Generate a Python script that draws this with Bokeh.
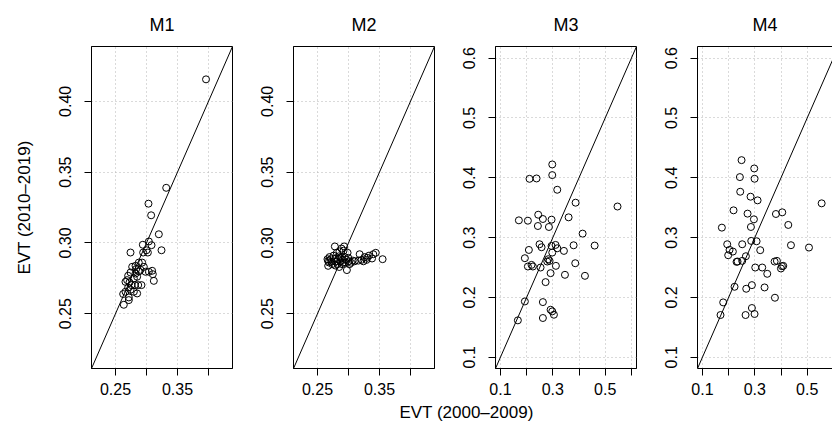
from bokeh.plotting import figure
from bokeh.models import Range1d, FixedTicker, Slope, Label, PrintfTickFormatter, LinearAxis
from bokeh.layouts import row, column
from bokeh.embed import file_html
from bokeh.resources import INLINE

FONT = "Liberation Sans"

# ---- data ----
titles = ["M1", "M2", "M3", "M4"]

m1_x = [0.3032, 0.3075, 0.3199, 0.2742, 0.3242, 0.2941, 0.3038, 0.3081, 0.2946, 0.3000,
        0.3022, 0.2876, 0.2930, 0.2823, 0.2957, 0.2769, 0.2903, 0.2833, 0.2876, 0.2984,
        0.3038, 0.3091, 0.3102, 0.2742, 0.2704, 0.2823, 0.2849, 0.2796, 0.3118, 0.2688,
        0.2661, 0.2726, 0.2758, 0.2812, 0.2866, 0.2919, 0.2704, 0.2742, 0.2661, 0.2796,
        0.2849, 0.2715, 0.2624, 0.2715, 0.2634, 0.3960, 0.3318]
m1_y = [0.3277, 0.3195, 0.3061, 0.2932, 0.2948, 0.2987, 0.3010, 0.2984, 0.2932, 0.2948,
        0.2932, 0.2861, 0.2861, 0.2838, 0.2831, 0.2831, 0.2810, 0.2815, 0.2798, 0.2796,
        0.2796, 0.2803, 0.2779, 0.2791, 0.2768, 0.2784, 0.2761, 0.2749, 0.2732, 0.2737,
        0.2725, 0.2721, 0.2702, 0.2702, 0.2702, 0.2702, 0.2685, 0.2669, 0.2655, 0.2655,
        0.2643, 0.2615, 0.2639, 0.2596, 0.2563, 0.4155, 0.3389]

m2_x = [0.2661, 0.2672, 0.2683, 0.2672, 0.2694, 0.2715, 0.2726, 0.2737, 0.2758, 0.2780,
        0.2790, 0.2801, 0.2812, 0.2823, 0.2833, 0.2844, 0.2855, 0.2866, 0.2877, 0.2888,
        0.2898, 0.2909, 0.2920, 0.2930, 0.2940, 0.2952, 0.2963, 0.2974, 0.2985, 0.2996,
        0.3006, 0.3017, 0.3040, 0.3070, 0.3100, 0.3160, 0.3180, 0.3210, 0.3240, 0.3260,
        0.3290, 0.3300, 0.3330, 0.3380, 0.3400, 0.3440, 0.3550, 0.2850, 0.2790, 0.2910]
m2_y = [0.2885, 0.2873, 0.2862, 0.2838, 0.2900, 0.2885, 0.2867, 0.2850, 0.2910, 0.2975,
        0.2890, 0.2868, 0.2930, 0.2850, 0.2885, 0.2905, 0.2940, 0.2870, 0.2890, 0.2960,
        0.2850, 0.2880, 0.2945, 0.2975, 0.2900, 0.2862, 0.2880, 0.2808, 0.2930, 0.2895,
        0.2870, 0.2850, 0.2860, 0.2875, 0.2870, 0.2875, 0.2920, 0.2880, 0.2870, 0.2900,
        0.2880, 0.2895, 0.2910, 0.2890, 0.2920, 0.2930, 0.2885, 0.2830, 0.2840, 0.2860]

m3_x = [0.2979, 0.2979, 0.2111, 0.2379, 0.3170, 0.3870, 0.2443, 0.2621, 0.2952, 0.2430,
        0.2851, 0.2048, 0.1704, 0.3603, 0.4138, 0.2494, 0.2570, 0.2952, 0.3105, 0.3170,
        0.3794, 0.4597, 0.3424, 0.2086, 0.2979, 0.1933, 0.2826, 0.2877, 0.2788, 0.2048,
        0.2188, 0.2239, 0.2532, 0.3118, 0.3857, 0.2915, 0.3463, 0.4227, 0.2724, 0.1933,
        0.2621, 0.2915, 0.2979, 0.3042, 0.2621, 0.1666, 0.5470]
m3_y = [0.4223, 0.4045, 0.3983, 0.3989, 0.3800, 0.3584, 0.3383, 0.3311, 0.3300, 0.3194,
        0.3178, 0.3283, 0.3289, 0.3339, 0.3067, 0.2889, 0.2839, 0.2861, 0.2878, 0.2822,
        0.2872, 0.2867, 0.2778, 0.2794, 0.2750, 0.2656, 0.2639, 0.2611, 0.2600, 0.2517,
        0.2544, 0.2517, 0.2500, 0.2528, 0.2572, 0.2406, 0.2378, 0.2361, 0.2256, 0.1933,
        0.1922, 0.1794, 0.1767, 0.1711, 0.1656, 0.1617, 0.3520]

m4_x = [0.2494, 0.2978, 0.2430, 0.2991, 0.2443, 0.2838, 0.3106, 0.5552, 0.2188, 0.2723,
        0.3806, 0.4048, 0.2966, 0.4278, 0.2851, 0.1742, 0.2864, 0.3068, 0.1946, 0.2519,
        0.4380, 0.5068, 0.3207, 0.2035, 0.2162, 0.1984, 0.2659, 0.2519, 0.2341, 0.2303,
        0.3755, 0.3844, 0.3017, 0.3284, 0.3475, 0.4035, 0.4086, 0.3997, 0.2889, 0.2226,
        0.2672, 0.3372, 0.3768, 0.1793, 0.2889, 0.1691, 0.2647, 0.2991]
m4_y = [0.4295, 0.4156, 0.4012, 0.3984, 0.3767, 0.3684, 0.3623, 0.3573, 0.3456, 0.3401,
        0.3395, 0.3423, 0.3306, 0.3212, 0.3178, 0.3167, 0.2945, 0.2939, 0.2889, 0.2889,
        0.2873, 0.2834, 0.2790, 0.2795, 0.2767, 0.2706, 0.2689, 0.2611, 0.2600, 0.2595,
        0.2600, 0.2611, 0.2500, 0.2500, 0.2395, 0.2522, 0.2528, 0.2484, 0.2206, 0.2178,
        0.2145, 0.2167, 0.1995, 0.1917, 0.1823, 0.1706, 0.1706, 0.1723]

# axis ticks
ticks_a_labeled_x = [0.25, 0.35]
ticks_a_unlabeled_x = [0.30, 0.40]
ticks_a_y = [0.25, 0.30, 0.35, 0.40]
ticks_b_labeled_x = [0.1, 0.3, 0.5]
ticks_b_unlabeled_x = [0.2, 0.4, 0.6]
ticks_b_y = [0.1, 0.2, 0.3, 0.4, 0.5, 0.6]
fmt_a = "%.2f"
fmt_b = "%.1f"

lim_a = (0.2113, 0.4387)
lim_b = (0.0812, 0.6195)
lim_b4_x = (0.0812, 0.5966)

x_title = "EVT (2000\u20132009)"
y_title = "EVT (2010\u20132019)"

ROW_H = 400


def panel(title, xs, ys, xr, yr, xl, xu, yt, fmt, width, left, right, ylabel=None, open_right=False):
    p = figure(width=width, height=ROW_H, x_range=Range1d(*xr), y_range=Range1d(*yr),
               output_backend="svg", toolbar_location=None,
               min_border_left=left, min_border_right=right,
               min_border_top=45, min_border_bottom=ROW_H - 45 - 323,
               title=title)
    p.background_fill_color = "white"
    p.border_fill_color = "white"
    p.outline_line_color = "black"
    p.outline_line_width = 1
    p.outline_line_alpha = 1

    p.title.align = "center"
    p.title.text_font = FONT
    p.title.text_font_size = "18px"
    p.title.text_font_style = "normal"
    p.title.text_color = "black"
    p.title.standoff = 24

    p.xaxis.ticker = FixedTicker(ticks=xl, minor_ticks=xu)
    p.yaxis.ticker = FixedTicker(ticks=yt)
    p.xaxis.formatter = PrintfTickFormatter(format=fmt)
    p.yaxis.formatter = PrintfTickFormatter(format=fmt)
    p.xgrid.ticker = FixedTicker(ticks=sorted(xl + xu))
    p.ygrid.ticker = FixedTicker(ticks=yt)
    for g in (p.xgrid[0], p.ygrid[0]):
        g.grid_line_color = "#b4b4b4"
        g.grid_line_dash = "1 3"
        g.grid_line_width = 1

    for ax in (p.xaxis[0], p.yaxis[0]):
        ax.axis_line_color = "black"
        ax.major_tick_in = 0
        ax.major_tick_out = 7
        ax.minor_tick_in = 0
        ax.minor_tick_out = 7
        ax.major_tick_line_color = "black"
        ax.minor_tick_line_color = "black"
        ax.major_label_text_font = FONT
        ax.major_label_text_font_size = "16px"
        ax.major_label_text_color = "black"
    p.yaxis.major_label_orientation = "vertical"
    p.yaxis.major_label_standoff = 13
    p.xaxis.major_label_standoff = 7

    if ylabel:
        p.yaxis.axis_label = ylabel
        p.yaxis.axis_label_text_font = FONT
        p.yaxis.axis_label_text_font_size = "17px"
        p.yaxis.axis_label_text_font_style = "normal"
        p.yaxis.axis_label_text_color = "black"
        p.yaxis.axis_label_standoff = 23

    if open_right:
        # the reference's last box runs past the picture's right edge
        p.outline_line_color = None
        top = LinearAxis(ticker=FixedTicker(ticks=[]), major_tick_in=0, major_tick_out=0,
                         minor_tick_in=0, minor_tick_out=0, major_label_standoff=0,
                         axis_line_color="black", major_label_text_font_size="0px")
        p.add_layout(top, "above")

    p.scatter(xs, ys, marker="circle", size=7, fill_color=None,
              line_color="black", line_width=1)
    p.add_layout(Slope(gradient=1, y_intercept=0, line_color="black", line_width=1))
    return p


p1 = panel(titles[0], m1_x, m1_y, lim_a, lim_a, ticks_a_labeled_x, ticks_a_unlabeled_x,
           ticks_a_y, fmt_a, 253, 91, 21, ylabel=y_title)
p2 = panel(titles[1], m2_x, m2_y, lim_a, lim_a, ticks_a_labeled_x, ticks_a_unlabeled_x,
           ticks_a_y, fmt_a, 202, 40, 21)
p3 = panel(titles[2], m3_x, m3_y, lim_b, lim_b, ticks_b_labeled_x, ticks_b_unlabeled_x,
           ticks_b_y, fmt_b, 202, 40, 21)
p4 = panel(titles[3], m4_x, m4_y, lim_b4_x, lim_b, ticks_b_labeled_x, ticks_b_unlabeled_x,
           ticks_b_y, fmt_b, 175, 40, 0, open_right=True)

bottom = figure(width=832, height=445 - ROW_H, x_range=Range1d(0, 832), y_range=Range1d(0, 445 - ROW_H),
                output_backend="svg", toolbar_location=None, min_border=0)
bottom.axis.visible = False
bottom.grid.visible = False
bottom.outline_line_color = None
bottom.add_layout(Label(x=466, y=33, text=x_title, text_align="center", text_baseline="middle",
                        text_font=FONT, text_font_size="17px", text_color="black"))

layout = column(row(p1, p2, p3, p4, spacing=0), bottom, spacing=0)

with open("out.html", "w") as f:
    f.write(file_html(layout, INLINE))
